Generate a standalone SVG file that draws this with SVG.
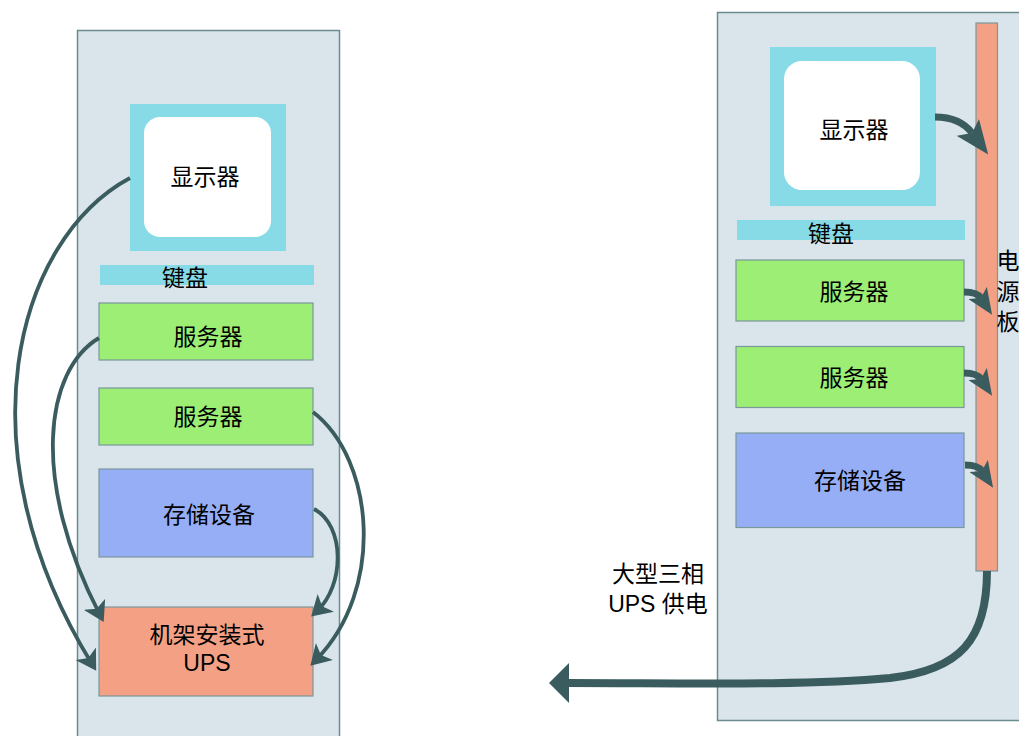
<svg xmlns="http://www.w3.org/2000/svg" width="1019" height="736" viewBox="0 0 1019 736">
<defs>
<style>
.rack{fill:#d9e5eb;stroke:#6b8a8f;stroke-width:1.5}
.mon{fill:#87dbe6}
.scr{fill:#ffffff}
.kb{fill:#87dbe6}
.srv{fill:#9cee75;stroke:#7a979b;stroke-width:1.2}
.sto{fill:#96aef5;stroke:#7a979b;stroke-width:1.2}
.ups{fill:#f4a084;stroke:#7a979b;stroke-width:1.2}
.t{font-family:"Liberation Sans","Noto Sans CJK SC",sans-serif;font-size:23px;fill:#000;text-anchor:middle}
.c1{fill:none;stroke:#3b5c5f;stroke-width:3.8}
.c2{fill:none;stroke:#3b5c5f;stroke-width:7}
.c3{fill:none;stroke:#3b5c5f;stroke-width:8}
</style>
<marker id="a1" markerUnits="userSpaceOnUse" markerWidth="20" markerHeight="24" refX="12" refY="12" orient="auto" viewBox="0 0 20 24">
<path d="M0,0 L20,12 L0,24 L5,12 z" fill="#3b5c5f"/>
</marker>
<marker id="a2" markerUnits="userSpaceOnUse" markerWidth="26" markerHeight="22" refX="6" refY="11" orient="auto" viewBox="0 0 26 22">
<path d="M0,0 L26,11 L0,22 L6,11 z" fill="#3b5c5f"/>
</marker>
<marker id="a3" markerUnits="userSpaceOnUse" markerWidth="34" markerHeight="28" refX="7" refY="14" orient="auto" viewBox="0 0 34 28">
<path d="M0,0 L34,14 L0,28 L7,14 z" fill="#3b5c5f"/>
</marker>
<marker id="a4" markerUnits="userSpaceOnUse" markerWidth="20" markerHeight="40" refX="1" refY="20" orient="auto" viewBox="0 0 20 40">
<path d="M0,0 L20,20 L0,40 z" fill="#3b5c5f"/>
</marker>
</defs>

<g id="rack-left">
<rect class="rack" x="77.5" y="30.5" width="262" height="720"/>
</g>
<g id="monitor-left">
<rect class="mon" x="130" y="104" width="156" height="147"/>
<rect class="scr" x="144" y="117" width="127" height="120" rx="16"/>
<text class="t" x="205" y="185">显示器</text>
</g>
<g id="keyboard-left">
<rect class="kb" x="100" y="265" width="214" height="20"/>
<text class="t" x="185" y="286">键盘</text>
</g>
<g id="server1-left">
<rect class="srv" x="99" y="303" width="214" height="57"/>
<text class="t" x="208" y="345">服务器</text>
</g>
<g id="server2-left">
<rect class="srv" x="99" y="388" width="214" height="57"/>
<text class="t" x="208" y="425">服务器</text>
</g>
<g id="storage-left">
<rect class="sto" x="99" y="469" width="214" height="88"/>
<text class="t" x="209" y="523">存储设备</text>
</g>
<g id="ups-left">
<rect class="ups" x="99" y="607" width="214" height="89"/>
<text class="t" x="207" y="643">机架安装式</text>
<text class="t" x="207" y="671">UPS</text>
</g>

<g id="rack-right">
<rect class="rack" x="717.5" y="12.5" width="320" height="708"/>
</g>
<g id="power-strip">
<rect class="ups" x="976" y="23" width="21.5" height="548"/>
<text class="t" x="1008" y="269">电</text>
<text class="t" x="1008" y="300">源</text>
<text class="t" x="1008" y="330">板</text>
</g>
<g id="monitor-right">
<rect class="mon" x="770" y="47" width="166" height="159"/>
<rect class="scr" x="784" y="61" width="136" height="129" rx="18"/>
<text class="t" x="854" y="138">显示器</text>
</g>
<g id="keyboard-right">
<rect class="kb" x="737" y="220" width="228" height="20"/>
<text class="t" x="831" y="242">键盘</text>
</g>
<g id="server1-right">
<rect class="srv" x="736" y="260" width="228" height="61"/>
<text class="t" x="854" y="300">服务器</text>
</g>
<g id="server2-right">
<rect class="srv" x="736" y="346.5" width="228" height="61"/>
<text class="t" x="854" y="386">服务器</text>
</g>
<g id="storage-right">
<rect class="sto" x="736" y="433" width="228" height="94.5"/>
<text class="t" x="860" y="489">存储设备</text>
</g>
<g id="label-ups-power">
<text class="t" x="658" y="582">大型三相</text>
<text class="t" x="658" y="612">UPS 供电</text>
</g>

<g id="connectors">
<path class="c1" d="M130,178 C15,240 -40,450 92,664" marker-end="url(#a1)"/>
<path class="c1" d="M99,338 C45,370 30,480 100,615" marker-end="url(#a1)"/>
<path class="c1" d="M313,412 C375,460 385,590 316,660" marker-end="url(#a1)"/>
<path class="c1" d="M314,509 C345,525 345,585 317,611" marker-end="url(#a1)"/>
<path class="c2" d="M935,117 Q960,117 972,133" marker-end="url(#a3)"/>
<path class="c2" d="M964,292 Q977,292 981,298" marker-end="url(#a2)"/>
<path class="c2" d="M964,373 Q977,373 981,379" marker-end="url(#a2)"/>
<path class="c2" d="M965,465 Q978,465 982,471" marker-end="url(#a2)"/>
<path class="c3" d="M987,571 C987,640 960,670 890,678 C800,686 680,683 568,683" marker-end="url(#a4)"/>
</g>
</svg>
